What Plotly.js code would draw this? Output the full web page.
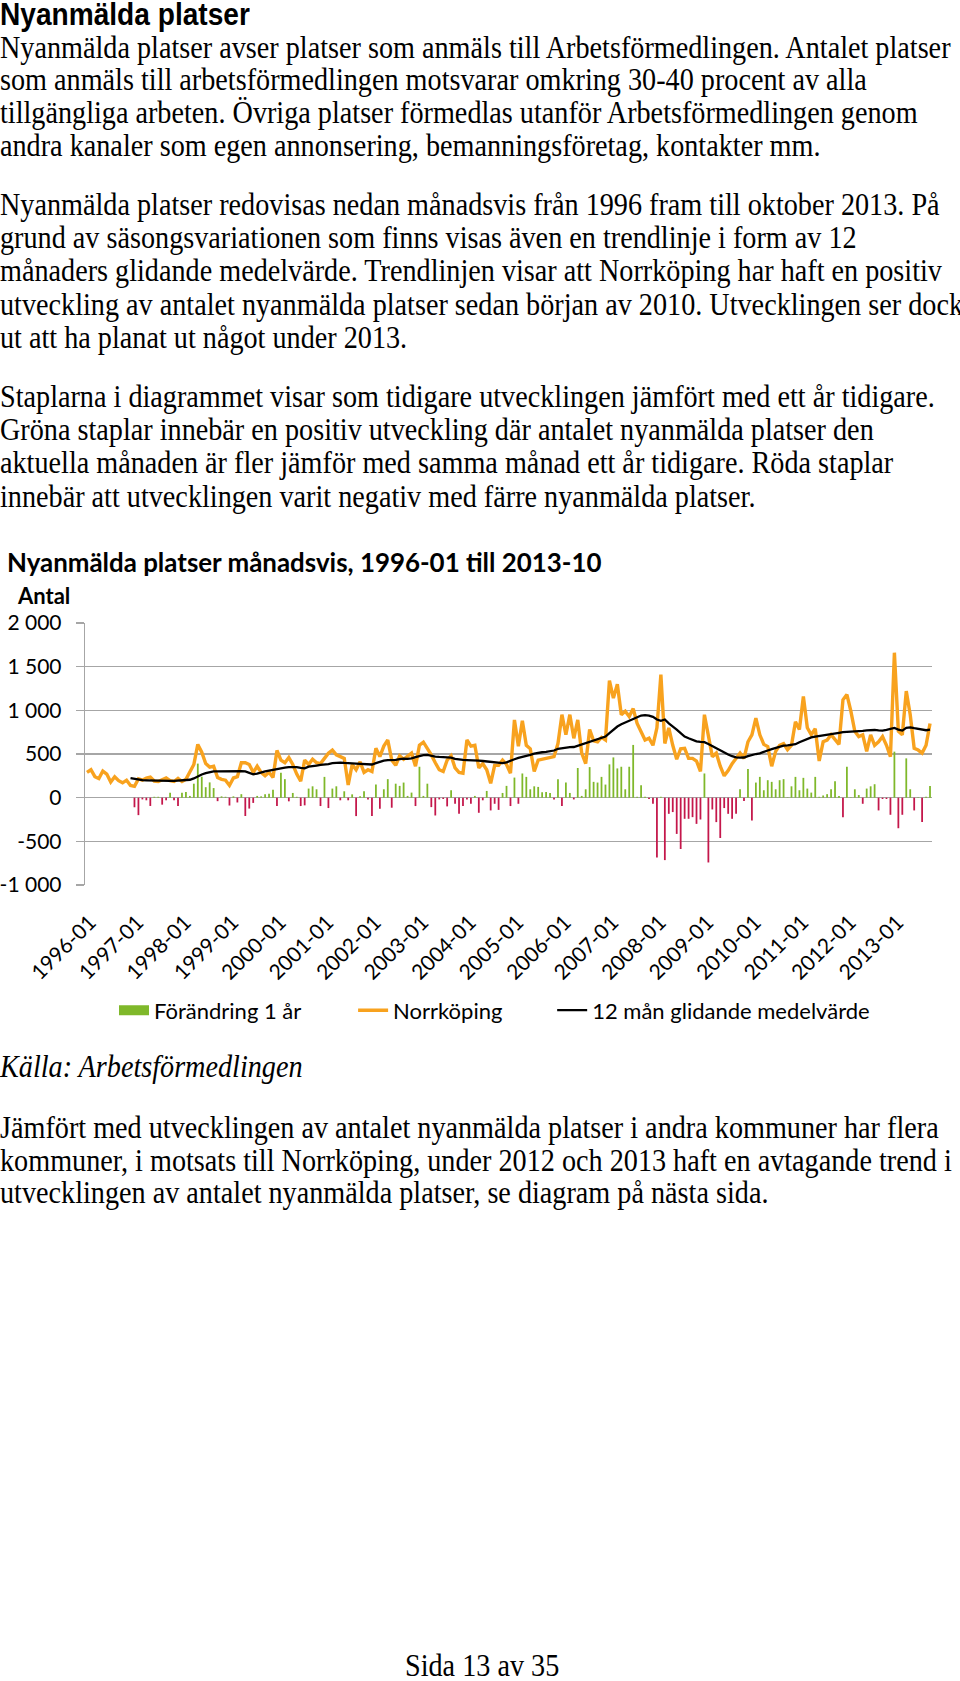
<!DOCTYPE html>
<html><head><meta charset="utf-8">
<script src="https://cdn.plot.ly/plotly-3.0.1.min.js"></script>
<style>
html,body{margin:0;padding:0;background:#fff;}
body{width:960px;height:1681px;position:relative;overflow:hidden;}
.t{position:absolute;left:0;white-space:nowrap;font-family:"Liberation Serif","Times New Roman",serif;color:#000;height:34px;line-height:34px;transform-origin:0 50%;}
.h{font-family:"Liberation Sans",Arial,sans-serif;font-weight:bold;}
.i{font-style:italic;}
#chart{position:absolute;left:0;top:540px;width:960px;height:540px;}
</style></head>
<body>
<div id="chart"></div>
<div class="t h" id="head" data-c="15">Nyanmälda platser</div>
<div class="t b" id="first" data-c="48">Nyanmälda platser avser platser som anmäls till Arbetsförmedlingen. Antalet platser</div>
<div class="t b" data-c="80">som anmäls till arbetsförmedlingen motsvarar omkring 30-40 procent av alla</div>
<div class="t b" data-c="113">tillgängliga arbeten. Övriga platser förmedlas utanför Arbetsförmedlingen genom</div>
<div class="t b" data-c="146">andra kanaler som egen annonsering, bemanningsföretag, kontakter mm.</div>
<div class="t b" data-c="205">Nyanmälda platser redovisas nedan månadsvis från 1996 fram till oktober 2013. På</div>
<div class="t b" data-c="238">grund av säsongsvariationen som finns visas även en trendlinje i form av 12</div>
<div class="t b" data-c="271">månaders glidande medelvärde. Trendlinjen visar att Norrköping har haft en positiv</div>
<div class="t b" data-c="305">utveckling av antalet nyanmälda platser sedan början av 2010. Utvecklingen ser dock</div>
<div class="t b" data-c="338">ut att ha planat ut något under 2013.</div>
<div class="t b" data-c="397">Staplarna i diagrammet visar som tidigare utvecklingen jämfört med ett år tidigare.</div>
<div class="t b" data-c="430">Gröna staplar innebär en positiv utveckling där antalet nyanmälda platser den</div>
<div class="t b" data-c="463">aktuella månaden är fler jämför med samma månad ett år tidigare. Röda staplar</div>
<div class="t b" data-c="497">innebär att utvecklingen varit negativ med färre nyanmälda platser.</div>
<div class="t b i" data-c="1067">Källa: Arbetsförmedlingen</div>
<div class="t b" data-c="1128">Jämfört med utvecklingen av antalet nyanmälda platser i andra kommuner har flera</div>
<div class="t b" data-c="1161">kommuner, i motsats till Norrköping, under 2012 och 2013 haft en avtagande trend i</div>
<div class="t b" data-c="1193">utvecklingen av antalet nyanmälda platser, se diagram på nästa sida.</div>
<div class="t b" id="foot" data-c="1666">Sida 13 av 35</div>
<script>
// ---------- data ----------
const startYear = 1996, endYear = 2013, endMonth = 10;
const months = [];
for (let y = startYear; y <= endYear; y++) {
  for (let m = 1; m <= 12; m++) {
    if (y === endYear && m > endMonth) break;
    months.push(y + '-' + (m < 10 ? '0' + m : m));
  }
}
const yearTicks = ['1996-01','1997-01','1998-01','1999-01','2000-01','2001-01','2002-01','2003-01','2004-01','2005-01','2006-01','2007-01','2008-01','2009-01','2010-01','2011-01','2012-01','2013-01'];
const yTickVals = [-1000, -500, 0, 500, 1000, 1500, 2000];
const yTickText = ['-1 000', '-500', '0', '500', '1 000', '1 500', '2 000'];

// Norrköping, nyanmälda platser per månad 1996-01 .. 2013-10
const norrkoping = [
  290, 320, 240, 220, 305, 270, 180, 240, 195, 170, 200, 140,
  130, 215, 200, 225, 235, 190, 185, 200, 225, 195, 185, 220,
  185, 210, 290, 380, 610, 520, 390, 350, 360, 230, 210, 200,
  140, 225, 240, 400, 400, 380, 290, 360, 290, 250, 290, 230,
  540, 430, 400, 460, 380, 270, 190, 430, 380, 440, 400, 390,
  450, 510, 545, 490, 470, 450, 145, 380, 320, 410, 290, 320,
  300, 565, 470, 590, 660, 430, 370, 480, 440, 470, 510, 360,
  600, 635, 570, 490, 400, 320, 300, 430, 480, 340, 290, 280,
  660, 590, 600, 340, 390, 320, 165, 370, 370, 430, 380, 280,
  890, 590, 880, 600, 560, 300, 430, 440, 450, 455, 470, 620,
  950, 720, 950, 680, 890, 510, 390, 780, 650, 640, 690, 660,
  1340, 1140, 1300, 950, 990, 930, 1020, 850, 760, 660, 680, 600,
  800, 1410, 620, 800, 600, 440, 560, 565, 450, 450, 420, 300,
  950, 720, 470, 510, 360, 250, 310, 390, 450, 510, 450, 640,
  720, 910, 720, 610, 585, 360, 530, 600, 620, 550, 600, 870,
  780, 1160, 800, 720, 790, 420, 640, 660, 720, 660, 610, 1120,
  1180, 990, 760, 700, 720, 530, 720, 600, 640, 700, 600, 470,
  1660, 760, 720, 1220, 950, 565, 545, 510, 600, 850
];

// 12 mån glidande medelvärde, 1996-12 .. 2013-10
const trend = [
  225,
  215, 205, 200, 198, 196, 195, 194, 193, 192, 192, 193, 194,
  195, 198, 205, 220, 245, 265, 280, 292, 300, 302, 303, 304,
  304, 304, 303, 304, 300, 285, 268, 275, 290, 300, 310, 320,
  332, 340, 345, 350, 352, 350, 340, 335, 355, 365, 368, 375,
  378, 385, 395, 400, 402, 398, 392, 392, 390, 386, 380, 378,
  380, 395, 410, 425, 430, 430, 432, 440, 448, 445, 450, 465,
  478, 488, 490, 478, 470, 466, 465, 462, 458, 445, 435, 432,
  430, 430, 428, 425, 420, 415, 405, 400, 395, 395, 405, 425,
  440, 455, 465, 478, 490, 505, 515, 520, 525, 530, 540, 560,
  568, 575, 578, 580, 595, 610, 625, 640, 655, 665, 680, 700,
  740, 780, 815, 840, 860, 880, 905, 925, 940, 945, 940, 925,
  895, 880, 895, 850, 820, 780, 740, 700, 680, 660, 645, 638,
  635, 615, 590, 565, 540, 515, 495, 475, 462, 458, 460, 475,
  490, 500, 508, 520, 540, 555, 570, 585, 595, 600, 605, 612,
  635, 655, 675, 690, 698, 705, 710, 715, 720, 730, 742, 750,
  752, 752, 755, 760, 765, 770, 775, 775, 770, 768, 775, 790,
  798, 780, 768, 800, 805, 795, 788, 778, 772, 778
];

// Förändring 1 år, 1997-01 .. 2013-10
const change = [
  -110, -200, -20, -30, -95, 10, 10, -80, -30, 55, -30, -95,
  55, 65, 20, 160, 390, 240, 120, 175, 110, -40, 15, 10,
  -90, 15, -55, 40, -210, -125, -60, 20, 15, 38, 45, 92,
  -96, 285, 212, -42, 54, 10, -96, -88, 104, 130, 96, -96,
  238, -119, 104, 130, -30, 73, -30, 38, -211, 15, 73, -20,
  -211, 150, -127, 96, 212, -115, 160, 135, 173, 20, 58, -96,
  354, 20, 160, -108, -204, -20, -15, -100, 85, -70, -185, -95,
  -20, -70, 20, -173, -30, 77, -146, -70, -140, 54, 135, -96,
  230, -70, 277, 238, 96, 130, 123, 62, 65, 54, -20, 210,
  -96, 173, 54, -20, 340, 20, 96, 350, 181, 173, 238, 150,
  381, 461, 335, 354, 96, 354, 604, 10, 142, 10, -15, -70,
  -685, 10, -715, -185, -165, -415, -588, -242, -242, -223, -300, -250,
  277, -742, -135, -280, -462, -119, -185, -242, -185, 96, -38, 327,
  -262, 173, 238, 85, 200, 181, 96, 200, 212, 5, 130, 238,
  85, 227, 104, 58, 238, 10, 25, 40, 96, 188, 20, -223,
  354, 5, 96, 30, -70, 104, 130, 154, -146, -15, -15, -196,
  527, -350, -196, 450, 96, -146, 5, -280, 10, 135
];

// ---------- text sizing ----------
function measure(text, font) {
  const c = document.createElement('canvas').getContext('2d');
  c.font = font; return c.measureText(text).width;
}
const TALL = 1.12;
const bodyFont = '"Liberation Serif", "Times New Roman", serif';
const bodySize = TALL * 100 * 954 / measure(document.getElementById('first').textContent, '100px ' + bodyFont);
const headSize = TALL * 100 * 250 / measure('Nyanmälda platser', 'bold 100px "Liberation Sans", Arial, sans-serif');
document.querySelectorAll('.t').forEach(el => {
  el.style.top = (parseFloat(el.dataset.c) - 17) + 'px';
  el.style.fontSize = (el.classList.contains('h') ? headSize : bodySize) + 'px';
  el.style.transform = 'scaleX(' + (1 / TALL) + ')';
});
const foot = document.getElementById('foot');
foot.style.left = (482 - foot.getBoundingClientRect().width / 2) + 'px';

// ---------- chart ----------
const GREEN = '#7fb82a', RED = '#c4174b', ORANGE = '#f8a21e', GRID = '#a6a6a6';
const H = 540, L = 85, PW = 846.7, T = 82.7, PH = 262.6;
const xp = px => (px - L) / PW;
const yp = py => (T + PH - (py - 540)) / PH;

const chMonths = months.slice(12);
const posVals = change.map(v => v > 0 ? v : null);
const negVals = change.map(v => v < 0 ? v : null);

const traces = [
  {type:'bar', x: chMonths, y: posVals, marker:{color: GREEN}, showlegend:false, hoverinfo:'skip'},
  {type:'bar', x: chMonths, y: negVals, marker:{color: RED}, showlegend:false, hoverinfo:'skip'},
  {type:'scatter', mode:'lines', x: months, y: norrkoping, line:{color: ORANGE, width:3.4}, name:'Norrköping', legend:'legend2'},
  {type:'scatter', mode:'lines', x: months.slice(11), y: trend, line:{color:'#000', width:2.3}, name:'12 mån glidande medelvärde', legend:'legend3'},
  {type:'scatter', mode:'lines', x: [months[0]], y: [null], line:{color: GREEN, width:14}, name:'Förändring 1 år', legend:'legend'}
];

const legBase = {orientation:'h', font:{family:'Lato, sans-serif', size:22, color:'#000'}, bgcolor:'rgba(0,0,0,0)', yanchor:'middle', xanchor:'left', y: yp(1011)};

const layout = {
  width: 960, height: H,
  margin: {l: L, r: 960 - L - PW, t: T, b: H - T - PH, pad: 0},
  paper_bgcolor: 'rgba(0,0,0,0)', plot_bgcolor: 'rgba(0,0,0,0)',
  font: {family: 'Lato, sans-serif', color: '#000'},
  title: {text: '<b>Nyanmälda platser månadsvis, 1996-01 till 2013-10</b>', font: {size: 25.9, family: 'Lato, sans-serif', color: '#000'},
          x: 7/960, xanchor: 'left', xref: 'container', y: 1 - 23/H, yanchor: 'middle', yref: 'container'},
  barmode: 'overlay', bargap: 0.55,
  xaxis: {type: 'category', categoryorder: 'array', categoryarray: months, range: [-0.5, months.length - 0.5],
          tickmode: 'array', tickvals: yearTicks, ticktext: yearTicks, tickangle: -45, tickfont: {size: 21, family: 'Lato, sans-serif'},
          showgrid: false, zeroline: false, showline: false, ticks: '', ticklabelstandoff: 20, ticklabelshift: 3},
  yaxis: {range: [-1000, 2000], tickmode: 'array', tickvals: yTickVals, ticktext: yTickText, tickfont: {size: 21, family: 'Lato, sans-serif'},
          showgrid: true, gridcolor: GRID, gridwidth: 1.3, zeroline: false, showline: true, linecolor: GRID, linewidth: 1.3,
          ticks: 'outside', ticklen: 8, tickcolor: GRID, tickwidth: 1.3, ticklabelstandoff: 10},
  annotations: [{text: '<b>Antal</b>', xref: 'paper', yref: 'paper', x: xp(15), y: yp(595), xanchor: 'left', yanchor: 'middle',
                 showarrow: false, font: {size: 22, family: 'Lato, sans-serif', color: '#000'}}],
  legend: Object.assign({}, legBase, {x: xp(114)}),
  legend2: Object.assign({}, legBase, {x: xp(353)}),
  legend3: Object.assign({}, legBase, {x: xp(552)})
};

Plotly.newPlot('chart', traces, layout, {displayModeBar: false, staticPlot: true});
</script>
</body></html>
